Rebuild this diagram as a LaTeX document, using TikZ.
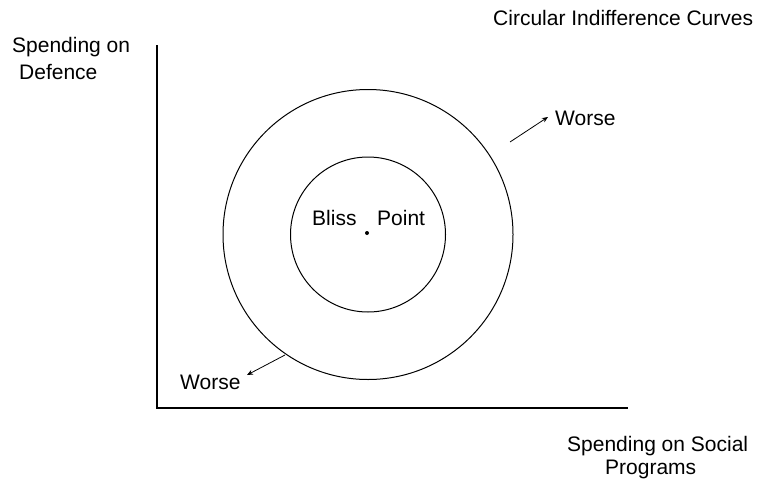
\documentclass[tikz,border=0pt]{standalone}
\usepackage{fontspec}
\setmainfont{Liberation Sans}
\usetikzlibrary{arrows.meta}

\tikzset{
  lbl/.style={font=\fontsize{21}{27}\selectfont, inner sep=0pt, anchor=base west},
  curve/.style={line width=1pt},
  worse/.style={-{Stealth[length=6pt,width=5pt]}, line width=0.8pt}
}

\begin{document}
\begin{tikzpicture}[x=1pt,y=-1pt]
\useasboundingbox (0,0) rectangle (768,482);

% axes
\coordinate (ytop) at (157,45);
\coordinate (origin) at (157,408);
\coordinate (xend) at (628,408);
\draw[line width=1.3pt] (ytop)--(origin)--(xend);

% axis labels
\node[lbl] (ylab1) at (12,52) {Spending on};
\node[lbl] (ylab2) at (19,79) {Defence};
\node[lbl] (xlab1) at (567,451) {Spending on Social};
\node[lbl] (xlab2) at (605,474) {Programs};
\node[lbl] (title) at (493,25) {Circular Indifference Curves};

% indifference curves
\coordinate (bliss) at (368,234.5);
\draw[curve] (bliss) circle[radius=145];
\draw[curve] (bliss) circle[radius=77.5];
\fill (367,233) circle[radius=2];

\node[lbl] (blisstxt) at (312,225) {Bliss};
\node[lbl] (pointtxt) at (377,225) {Point};

% worse directions
\node[lbl] (worseup) at (555,125) {Worse};
\node[lbl] (worsedn) at (180,389) {Worse};
\coordinate (upstart) at (510,142);
\coordinate (dnstart) at (285,355);
\draw[worse] (upstart)--(548,117);
\draw[worse] (dnstart)--(247,375);

\end{tikzpicture}
\end{document}
